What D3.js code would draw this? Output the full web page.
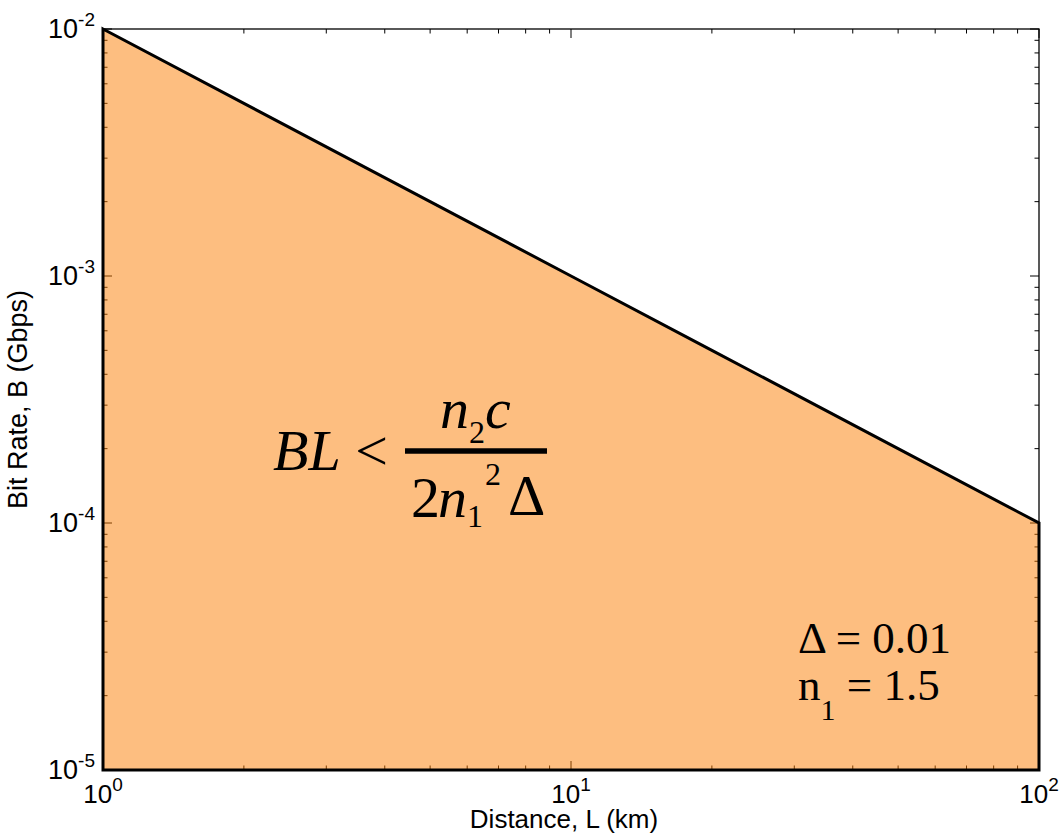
<!DOCTYPE html>
<html>
<head>
<meta charset="utf-8">
<script src="https://cdn.jsdelivr.net/npm/d3@7"></script>
<style>
  html, body { margin: 0; padding: 0; background: #fff; }
  svg { display: block; }
  .tick-label { font-family: "Liberation Sans", Arial, Helvetica, sans-serif; fill: #000; }
  .axis-title { font-family: "Liberation Sans", Arial, Helvetica, sans-serif; fill: #000; }
  .eq { font-family: "Liberation Serif", "Times New Roman", Times, serif; fill: #000; }
</style>
</head>
<body>
<svg id="chart" width="1061" height="835"></svg>
<script>
// Distance (km) and the modal-dispersion bit-rate limit (Gbps) along the boundary
const distanceKm = [1, 2, 5, 10, 20, 50, 100];
const bitRateGbps = [0.01, 0.005, 0.002, 0.001, 0.0005, 0.0002, 0.0001];

// Axis domains and decade tick exponents
const xDomain = [1, 100];
const yDomain = [1e-5, 1e-2];
const xTickExponents = [0, 1, 2];
const yTickExponents = [-5, -4, -3, -2];

const xTitle = "Distance, L (km)";
const yTitle = "Bit Rate, B (Gbps)";

const margin = { left: 103, right: 22, top: 29, bottom: 65 };
const W = 1061, H = 835;
const iw = W - margin.left - margin.right;
const ih = H - margin.top - margin.bottom;

const svg = d3.select("#chart");
const g = svg.append("g").attr("transform", `translate(${margin.left},${margin.top})`);

const x = d3.scaleLog().domain(xDomain).range([0, iw]);
const y = d3.scaleLog().domain(yDomain).range([ih, 0]);

// Frame
g.append("rect")
  .attr("x", 0).attr("y", 0).attr("width", iw).attr("height", ih)
  .attr("fill", "none").attr("stroke", "#000").attr("stroke-width", 1.3);

// Inward ticks on all four sides (major at decades, minor at 2..9)
function tickValues(domain) {
  const out = [];
  const lo = Math.round(Math.log10(domain[0])), hi = Math.round(Math.log10(domain[1]));
  for (let e = lo; e <= hi; e++) {
    for (let m = 1; m <= 9; m++) {
      const v = m * Math.pow(10, e);
      if (v >= domain[0] * 0.999 && v <= domain[1] * 1.001) out.push({ v, major: m === 1 });
    }
  }
  return out;
}
const majorLen = 9, minorLen = 4.5;
const tickG = g.append("g").attr("stroke", "#000").attr("stroke-width", 1);
tickValues(xDomain).forEach(t => {
  const px = x(t.v), len = t.major ? majorLen : minorLen;
  tickG.append("line").attr("x1", px).attr("x2", px).attr("y1", ih).attr("y2", ih - len);
  tickG.append("line").attr("x1", px).attr("x2", px).attr("y1", 0).attr("y2", len);
});
tickValues(yDomain).forEach(t => {
  const py = y(t.v), len = t.major ? majorLen : minorLen;
  tickG.append("line").attr("x1", 0).attr("x2", len).attr("y1", py).attr("y2", py);
  tickG.append("line").attr("x1", iw).attr("x2", iw - len).attr("y1", py).attr("y2", py);
});

// Shaded allowed region under the limit
const data = distanceKm.map((d, i) => ({ L: d, B: bitRateGbps[i] }));
const area = d3.area()
  .x(d => x(d.L))
  .y0(y(yDomain[0]))
  .y1(d => y(d.B));
g.append("path")
  .datum(data)
  .attr("d", area)
  .attr("fill", "rgba(251,126,2,0.5)")
  .attr("stroke", "#000")
  .attr("stroke-width", 3)
  .attr("stroke-linejoin", "miter");

// Tick labels
xTickExponents.forEach(e => {
  const t = g.append("text").attr("class", "tick-label")
    .attr("x", x(Math.pow(10, e))).attr("y", ih + 33)
    .attr("text-anchor", "middle").attr("font-size", 26);
  t.append("tspan").text("10");
  t.append("tspan").attr("font-size", 19).attr("dy", -12).text(String(e));
});
yTickExponents.forEach(e => {
  const t = g.append("text").attr("class", "tick-label")
    .attr("x", -8).attr("y", y(Math.pow(10, e)) + 9)
    .attr("text-anchor", "end").attr("font-size", 27);
  t.append("tspan").text("10");
  t.append("tspan").attr("font-size", 19).attr("dy", -12).text(String(e));
});

// Axis titles
g.append("text").attr("class", "axis-title")
  .attr("x", iw / 2 - 7).attr("y", ih + 58)
  .attr("text-anchor", "middle").attr("font-size", 26)
  .text(xTitle);
g.append("text").attr("class", "axis-title")
  .attr("transform", `translate(${-76},${ih / 2}) rotate(-90)`)
  .attr("text-anchor", "middle").attr("font-size", 27)
  .text(yTitle);

// Limit formula: BL < n2 c / (2 n1^2 Δ)
const eq = g.append("g").attr("class", "eq");
const big = 58, small = 32;
const fx = 170, fy = 441;           // left of "BL" and baseline of "BL <"
const lhs = eq.append("text").attr("x", fx).attr("y", fy).attr("font-size", big);
lhs.append("tspan").attr("font-style", "italic").text("BL");
lhs.append("tspan").text(" <");
const barX0 = fx + 132, barX1 = fx + 274, barY = fy - 19;
eq.append("line").attr("x1", barX0).attr("x2", barX1).attr("y1", barY).attr("y2", barY)
  .attr("stroke", "#000").attr("stroke-width", 5.5);
// numerator
eq.append("text").attr("x", fx + 167).attr("y", fy - 42).attr("font-size", big)
  .attr("font-style", "italic").text("n");
eq.append("text").attr("x", fx + 196).attr("y", fy - 27).attr("font-size", small).text("2");
eq.append("text").attr("x", fx + 212).attr("y", fy - 42).attr("font-size", big)
  .attr("font-style", "italic").text("c");
// denominator
eq.append("text").attr("x", fx + 138).attr("y", fy + 47).attr("font-size", big).text("2");
eq.append("text").attr("x", fx + 165).attr("y", fy + 47).attr("font-size", big)
  .attr("font-style", "italic").text("n");
eq.append("text").attr("x", fx + 194).attr("y", fy + 57).attr("font-size", small).text("1");
eq.append("text").attr("x", fx + 212).attr("y", fy + 15).attr("font-size", small).text("2");
eq.append("text").attr("x", fx + 235).attr("y", fy + 45).attr("font-size", big).text("Δ");

// Parameters
const px0 = 695;
eq.append("text").attr("x", px0).attr("y", 624).attr("font-size", 45).text("Δ = 0.01");
const n1 = eq.append("text").attr("x", px0).attr("y", 671).attr("font-size", 45);
n1.append("tspan").text("n");
n1.append("tspan").attr("font-size", 30).attr("dy", 20).text("1");
n1.append("tspan").attr("dy", -20).text(" = 1.5");
</script>
</body>
</html>
